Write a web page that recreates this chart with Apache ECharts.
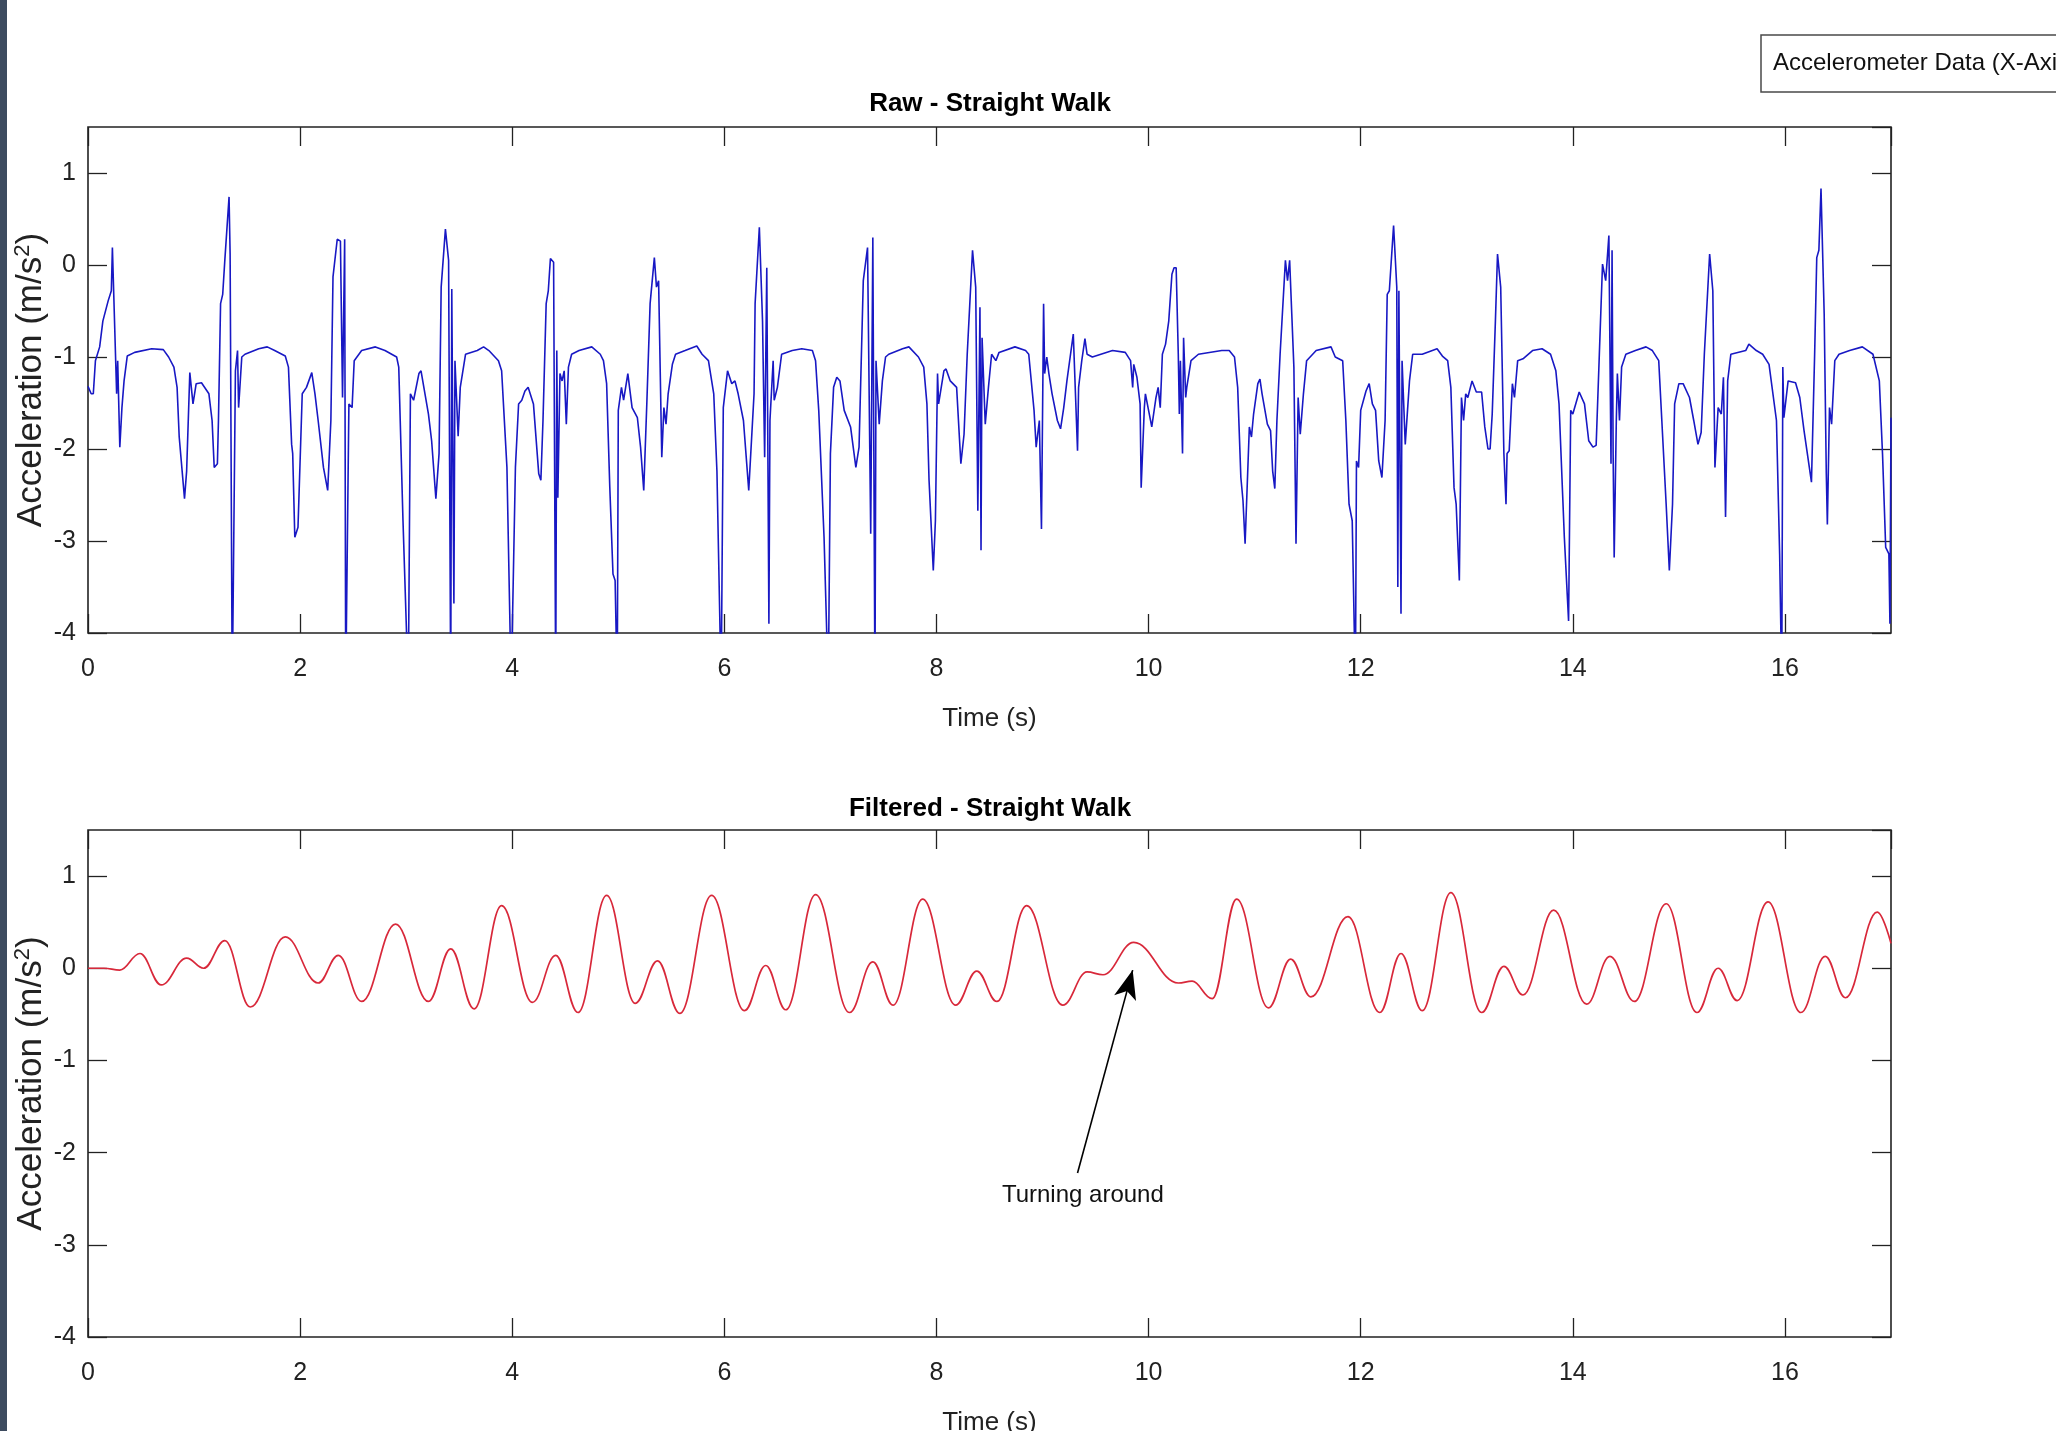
<!DOCTYPE html>
<html>
<head>
<meta charset="utf-8">
<title>Accelerometer Data (X-Axis)</title>
<script src="https://cdn.jsdelivr.net/npm/echarts@6/dist/echarts.min.js"></script>
<style>
  html, body { margin: 0; padding: 0; background: #fff; overflow: hidden; }
  #main { width: 2056px; height: 1431px; }
</style>
</head>
<body>
<div id="main"></div>
<script>
// time (s), acceleration (m/s^2); values below -4 are clipped by the axes
const rawWalk = [
  [0.00,-1.32],[0.03,-1.40],[0.05,-1.40],[0.07,-1.04],[0.11,-0.89],[0.14,-0.61],[0.19,-0.39],[0.22,-0.28],[0.23,0.19],
  [0.27,-1.40],[0.28,-1.04],[0.30,-1.98],[0.32,-1.55],[0.34,-1.26],[0.37,-0.99],[0.44,-0.95],[0.60,-0.91],[0.71,-0.92],
  [0.76,-1.00],[0.81,-1.11],[0.84,-1.33],[0.86,-1.87],[0.87,-1.86],[0.91,-2.54],[0.93,-2.24],[0.96,-1.17],[0.99,-1.51],
  [1.02,-1.29],[1.07,-1.28],[1.14,-1.40],[1.17,-1.69],[1.19,-2.20],[1.22,-2.16],[1.23,-1.69],[1.25,-0.42],[1.27,-0.32],
  [1.29,0.05],[1.33,0.74],[1.34,0.12],[1.36,-4.6],[1.37,-3.49],[1.39,-1.15],[1.41,-0.93],[1.42,-1.55],[1.45,-1.00],
  [1.48,-0.97],[1.61,-0.91],[1.69,-0.89],[1.76,-0.93],[1.86,-0.99],[1.89,-1.11],[1.92,-1.95],[1.93,-2.05],[1.95,-2.96],
  [1.98,-2.85],[2.02,-1.40],[2.06,-1.33],[2.11,-1.17],[2.14,-1.40],[2.17,-1.69],[2.22,-2.20],[2.26,-2.45],[2.29,-1.69],
  [2.31,-0.13],[2.35,0.28],[2.38,0.26],[2.40,-1.44],[2.42,0.28],[2.43,-4.6],[2.46,-1.51],[2.49,-1.55],[2.51,-1.04],
  [2.58,-0.93],[2.71,-0.89],[2.80,-0.93],[2.91,-1.00],[2.93,-1.11],[2.97,-2.78],[3.02,-4.6],[3.04,-1.40],[3.07,-1.47],
  [3.12,-1.18],[3.14,-1.15],[3.21,-1.62],[3.24,-1.91],[3.28,-2.54],[3.31,-2.05],[3.33,-0.24],[3.37,0.39],[3.40,0.05],
  [3.42,-4.6],[3.43,-0.26],[3.45,-3.68],[3.46,-1.04],[3.49,-1.86],[3.51,-1.33],[3.56,-0.97],[3.67,-0.93],[3.73,-0.89],
  [3.78,-0.93],[3.87,-1.04],[3.90,-1.15],[3.95,-2.20],[3.99,-4.6],[4.03,-2.20],[4.06,-1.51],[4.09,-1.47],[4.12,-1.37],
  [4.15,-1.33],[4.20,-1.51],[4.25,-2.27],[4.27,-2.34],[4.29,-1.69],[4.32,-0.42],[4.34,-0.28],[4.36,0.07],[4.39,0.03],
  [4.41,-4.6],[4.42,-0.93],[4.43,-2.53],[4.45,-1.18],[4.47,-1.26],[4.49,-1.15],[4.51,-1.73],[4.53,-1.11],[4.56,-0.97],
  [4.63,-0.93],[4.75,-0.89],[4.83,-0.97],[4.86,-1.04],[4.89,-1.29],[4.92,-2.42],[4.95,-3.36],[4.97,-3.43],[4.99,-4.6],
  [5.00,-1.58],[5.03,-1.33],[5.05,-1.47],[5.09,-1.18],[5.13,-1.55],[5.18,-1.66],[5.21,-1.98],[5.24,-2.45],[5.27,-1.47],
  [5.30,-0.42],[5.34,0.08],[5.36,-0.24],[5.38,-0.17],[5.41,-2.09],[5.43,-1.55],[5.45,-1.73],[5.47,-1.40],[5.51,-1.08],
  [5.54,-0.97],[5.63,-0.93],[5.74,-0.88],[5.79,-0.97],[5.85,-1.04],[5.90,-1.40],[5.93,-2.24],[5.97,-4.6],[5.99,-1.55],
  [6.03,-1.15],[6.07,-1.29],[6.10,-1.26],[6.13,-1.40],[6.18,-1.69],[6.23,-2.45],[6.28,-1.40],[6.29,-0.42],[6.33,0.41],
  [6.36,-0.61],[6.38,-2.09],[6.40,-0.03],[6.42,-3.90],[6.43,-1.69],[6.46,-1.04],[6.47,-1.47],[6.50,-1.33],[6.54,-0.97],
  [6.64,-0.93],[6.73,-0.91],[6.83,-0.93],[6.86,-1.04],[6.89,-1.58],[6.94,-2.96],[6.98,-4.6],[7.00,-2.05],[7.03,-1.33],
  [7.06,-1.22],[7.09,-1.26],[7.13,-1.58],[7.19,-1.76],[7.24,-2.20],[7.27,-1.98],[7.31,-0.17],[7.35,0.19],[7.38,-2.92],
  [7.40,0.30],[7.42,-4.6],[7.43,-1.04],[7.46,-1.73],[7.49,-1.26],[7.52,-1.00],[7.55,-0.97],[7.68,-0.91],[7.74,-0.89],
  [7.83,-1.00],[7.88,-1.11],[7.91,-1.51],[7.93,-2.34],[7.94,-2.34],[7.97,-3.32],[7.99,-2.78],[8.01,-1.18],[8.02,-1.51],
  [8.07,-1.15],[8.09,-1.13],[8.13,-1.26],[8.19,-1.33],[8.23,-2.16],[8.26,-1.84],[8.29,-0.97],[8.34,0.16],[8.37,-0.24],
  [8.39,-2.67],[8.41,-0.46],[8.42,-3.10],[8.43,-0.79],[8.46,-1.73],[8.49,-1.33],[8.52,-0.97],[8.56,-1.04],[8.59,-0.95],
  [8.74,-0.89],[8.84,-0.93],[8.87,-0.97],[8.92,-1.58],[8.94,-1.98],[8.97,-1.69],[8.99,-2.87],[9.01,-0.42],[9.02,-1.18],
  [9.04,-1.00],[9.06,-1.18],[9.09,-1.40],[9.14,-1.69],[9.17,-1.78],[9.20,-1.55],[9.23,-1.26],[9.29,-0.75],[9.33,-2.02],
  [9.34,-1.33],[9.37,-1.04],[9.40,-0.80],[9.42,-0.97],[9.47,-1.00],[9.66,-0.93],[9.78,-0.95],[9.83,-1.04],[9.85,-1.33],
  [9.86,-1.08],[9.89,-1.22],[9.92,-1.51],[9.93,-2.42],[9.96,-1.55],[9.97,-1.40],[10.00,-1.58],[10.03,-1.76],[10.07,-1.44],
  [10.09,-1.33],[10.11,-1.55],[10.13,-0.97],[10.16,-0.86],[10.19,-0.61],[10.22,-0.10],[10.24,-0.03],[10.26,-0.03],
  [10.28,-0.97],[10.29,-1.62],[10.30,-1.04],[10.32,-2.05],[10.33,-0.79],[10.35,-1.44],[10.36,-1.33],[10.40,-1.04],
  [10.47,-0.97],[10.69,-0.93],[10.76,-0.93],[10.81,-1.00],[10.84,-1.33],[10.87,-2.31],[10.89,-2.56],[10.91,-3.03],
  [10.95,-1.76],[10.97,-1.87],[10.99,-1.62],[11.03,-1.29],[11.05,-1.24],[11.07,-1.40],[11.12,-1.73],[11.15,-1.80],
  [11.17,-2.24],[11.19,-2.43],[11.21,-1.69],[11.24,-0.97],[11.29,0.05],[11.31,-0.17],[11.33,0.05],[11.35,-0.53],
  [11.37,-1.11],[11.39,-3.03],[11.41,-1.44],[11.43,-1.84],[11.46,-1.40],[11.49,-1.04],[11.58,-0.93],[11.72,-0.89],
  [11.76,-1.00],[11.83,-1.04],[11.86,-1.69],[11.89,-2.60],[11.92,-2.78],[11.95,-4.6],[11.96,-2.13],[11.98,-2.20],
  [12.00,-1.58],[12.05,-1.37],[12.08,-1.29],[12.11,-1.51],[12.14,-1.58],[12.17,-2.13],[12.20,-2.31],[12.23,-1.69],
  [12.25,-0.32],[12.27,-0.28],[12.31,0.43],[12.34,-0.24],[12.35,-3.50],[12.36,-0.28],[12.38,-3.79],[12.39,-1.04],
  [12.42,-1.95],[12.46,-1.26],[12.49,-0.97],[12.58,-0.97],[12.72,-0.91],[12.77,-0.99],[12.82,-1.04],[12.85,-1.33],
  [12.88,-2.42],[12.90,-2.60],[12.93,-3.43],[12.95,-1.44],[12.97,-1.69],[12.99,-1.40],[13.01,-1.44],[13.05,-1.26],
  [13.09,-1.38],[13.14,-1.38],[13.17,-1.76],[13.20,-2.00],[13.22,-2.00],[13.24,-1.62],[13.27,-0.61],[13.29,0.12],
  [13.32,-0.24],[13.35,-2.05],[13.37,-2.60],[13.38,-2.05],[13.40,-2.02],[13.43,-1.29],[13.45,-1.44],[13.48,-1.04],
  [13.53,-1.02],[13.62,-0.93],[13.71,-0.91],[13.79,-0.97],[13.84,-1.15],[13.87,-1.51],[13.92,-2.96],[13.96,-3.87],
  [13.98,-1.58],[14.00,-1.62],[14.06,-1.38],[14.11,-1.51],[14.15,-1.91],[14.19,-1.98],[14.22,-1.96],[14.25,-0.97],
  [14.28,0.01],[14.31,-0.17],[14.34,0.32],[14.36,-2.16],[14.37,0.16],[14.38,-2.05],[14.39,-3.18],[14.41,-1.69],
  [14.42,-1.18],[14.44,-1.69],[14.46,-1.11],[14.50,-0.97],[14.59,-0.93],[14.69,-0.89],[14.75,-0.93],[14.81,-1.04],
  [14.88,-2.60],[14.91,-3.32],[14.94,-2.60],[14.96,-1.51],[15.00,-1.29],[15.04,-1.29],[15.10,-1.44],[15.14,-1.69],
  [15.18,-1.95],[15.21,-1.82],[15.24,-0.97],[15.29,0.12],[15.32,-0.28],[15.34,-2.20],[15.37,-1.55],[15.40,-1.62],
  [15.42,-1.22],[15.44,-2.74],[15.46,-1.26],[15.49,-0.97],[15.63,-0.93],[15.66,-0.86],[15.73,-0.93],[15.79,-0.97],
  [15.85,-1.08],[15.92,-1.69],[15.95,-3.14],[15.97,-4.6],[15.98,-1.11],[15.99,-1.66],[16.03,-1.26],[16.10,-1.28],
  [16.14,-1.44],[16.18,-1.80],[16.25,-2.36],[16.28,-0.97],[16.30,0.08],[16.32,0.16],[16.34,0.83],[16.37,-0.53],
  [16.39,-2.27],[16.40,-2.82],[16.42,-1.55],[16.44,-1.73],[16.47,-1.04],[16.51,-0.97],[16.61,-0.93],[16.73,-0.89],
  [16.83,-0.97],[16.89,-1.26],[16.92,-2.05],[16.95,-3.07],[16.98,-3.14],[16.99,-3.90],[17.00,-1.66]
];

// peaks and troughs of the filtered trace
const filteredWalk = [
  [0.00,0.00],[0.15,0.00],[0.30,-0.02],[0.49,0.16],[0.69,-0.18],[0.93,0.11],[1.09,0.00],[1.29,0.30],[1.53,-0.42],
  [1.86,0.34],[2.17,-0.16],[2.36,0.14],[2.58,-0.36],[2.90,0.48],[3.21,-0.36],[3.42,0.21],[3.64,-0.44],[3.90,0.68],
  [4.19,-0.37],[4.41,0.14],[4.62,-0.48],[4.89,0.79],[5.16,-0.38],[5.37,0.08],[5.58,-0.49],[5.88,0.79],[6.19,-0.46],
  [6.39,0.03],[6.58,-0.45],[6.86,0.80],[7.18,-0.48],[7.40,0.07],[7.59,-0.40],[7.87,0.75],[8.18,-0.40],[8.38,-0.03],
  [8.57,-0.36],[8.85,0.68],[9.19,-0.40],[9.42,-0.04],[9.57,-0.07],[9.86,0.28],[10.28,-0.16],[10.41,-0.14],[10.60,-0.33],
  [10.83,0.75],[11.13,-0.43],[11.34,0.10],[11.53,-0.31],[11.88,0.56],[12.18,-0.48],[12.38,0.16],[12.58,-0.46],
  [12.85,0.82],[13.14,-0.48],[13.35,0.02],[13.53,-0.29],[13.82,0.63],[14.13,-0.39],[14.35,0.13],[14.58,-0.36],
  [14.88,0.70],[15.17,-0.48],[15.37,0.00],[15.55,-0.35],[15.84,0.72],[16.15,-0.48],[16.38,0.13],[16.57,-0.32],
  [16.87,0.61],[17.00,0.27]
];

const xRange = [0, 17];
const yRange = [-4, 1.5];
const xStep = 2;
const yStep = 1;
const arrowFrom = [9.33, -2.22];
const arrowTo = [9.85, -0.02];
const notePos = [9.38, -2.46];

const FONT = '"Liberation Sans", Arial, Helvetica, sans-serif';
const INK = '#222222';

function xAxisFor(gridIndex, position, withLabels) {
  return {
    type: 'value', gridIndex, position,
    min: xRange[0], max: xRange[1], interval: xStep,
    name: withLabels ? 'Time (s)' : '',
    nameLocation: 'middle', nameGap: 73,
    nameTextStyle: { fontFamily: FONT, fontSize: 26, color: INK },
    axisLine: { show: false, onZero: false },
    axisTick: { show: true, inside: true, length: 19, lineStyle: { color: INK, width: 1.3 } },
    axisLabel: { show: withLabels, showMaxLabel: false, margin: 24, fontFamily: FONT, fontSize: 25, color: INK },
    splitLine: { show: false }
  };
}

function yAxisFor(gridIndex, position, withLabels) {
  return {
    type: 'value', gridIndex, position,
    min: yRange[0], max: yRange[1], interval: yStep,
    name: withLabels ? 'Acceleration (m/s{sup|2})' : '',
    nameLocation: 'middle', nameGap: 38, nameRotate: 90, nameMoveOverlap: false,
    nameTextStyle: {
      fontFamily: FONT, fontSize: 35, color: INK, lineHeight: 38,
      rich: { sup: { fontFamily: FONT, fontSize: 22, color: INK, verticalAlign: 'top', lineHeight: 38 } }
    },
    axisLine: { show: false, onZero: false },
    axisTick: { show: true, inside: true, length: 19, lineStyle: { color: INK, width: 1.3 } },
    axisLabel: { show: withLabels, showMaxLabel: false, margin: 12, fontFamily: FONT, fontSize: 25, color: INK },
    splitLine: { show: false }
  };
}

const chart = echarts.init(document.getElementById('main'), null, { renderer: 'canvas' });

const option = {
  animation: false,
  backgroundColor: '#ffffff',
  grid: [
    { left: 88, top: 127, width: 1803, height: 506, outerBoundsMode: 'none', show: true, borderColor: INK, borderWidth: 1.6, backgroundColor: '#fff' },
    { left: 88, top: 830, width: 1803, height: 507, outerBoundsMode: 'none', show: true, borderColor: INK, borderWidth: 1.6, backgroundColor: '#fff' }
  ],
  xAxis: [
    xAxisFor(0, 'bottom', true), xAxisFor(0, 'top', false),
    xAxisFor(1, 'bottom', true), xAxisFor(1, 'top', false)
  ],
  yAxis: [
    yAxisFor(0, 'left', true), yAxisFor(0, 'right', false),
    yAxisFor(1, 'left', true), yAxisFor(1, 'right', false)
  ],
  graphic: [
    { type: 'rect', left: 0, top: 0, shape: { width: 7, height: 1431 }, style: { fill: '#3d4b5f' }, z: 10 },
    { type: 'rect', shape: { x: 1761, y: 35, width: 330, height: 57 }, style: { fill: '#fff', stroke: '#4a4a4a', lineWidth: 1.5 }, z: 10 },
    { type: 'text', x: 1773, y: 63, style: { text: 'Accelerometer Data (X-Axis)', fill: '#111', fontFamily: FONT, fontSize: 24, align: 'left', verticalAlign: 'middle' }, z: 11 },
    { type: 'text', x: 990, y: 104, style: { text: 'Raw - Straight Walk', fill: '#000', fontFamily: FONT, fontSize: 26, fontWeight: 'bold', align: 'center', verticalAlign: 'middle' }, z: 11 },
    { type: 'text', x: 990, y: 809, style: { text: 'Filtered - Straight Walk', fill: '#000', fontFamily: FONT, fontSize: 26, fontWeight: 'bold', align: 'center', verticalAlign: 'middle' }, z: 11 }
  ],
  series: [
    {
      name: 'Raw', type: 'line', xAxisIndex: 0, yAxisIndex: 0,
      data: rawWalk, showSymbol: false, symbol: 'none', clip: true,
      lineStyle: { color: '#1818c4', width: 1.6 }
    },
    {
      name: 'Filtered', type: 'line', xAxisIndex: 2, yAxisIndex: 2,
      data: filteredWalk, showSymbol: false, symbol: 'none', clip: true,
      smooth: 0.4, smoothMonotone: 'x',
      lineStyle: { color: '#d8283a', width: 1.7 },
      markLine: {
        silent: true, animation: false,
        symbol: ['none', 'arrow'],
        lineStyle: { color: '#000', width: 1.6, type: 'solid' },
        label: { show: false },
        data: [[{ coord: arrowFrom }, { coord: arrowTo, symbol: 'arrow', symbolSize: [17, 29] }]]
      },
      markPoint: {
        silent: true, animation: false,
        symbol: 'circle', symbolSize: 1,
        itemStyle: { color: 'rgba(0,0,0,0)' },
        label: { show: true, position: 'inside', formatter: 'Turning around', fontFamily: FONT, fontSize: 24, color: '#111' },
        data: [{ coord: notePos }]
      }
    }
  ]
};

chart.setOption(option);
</script>
</body>
</html>
